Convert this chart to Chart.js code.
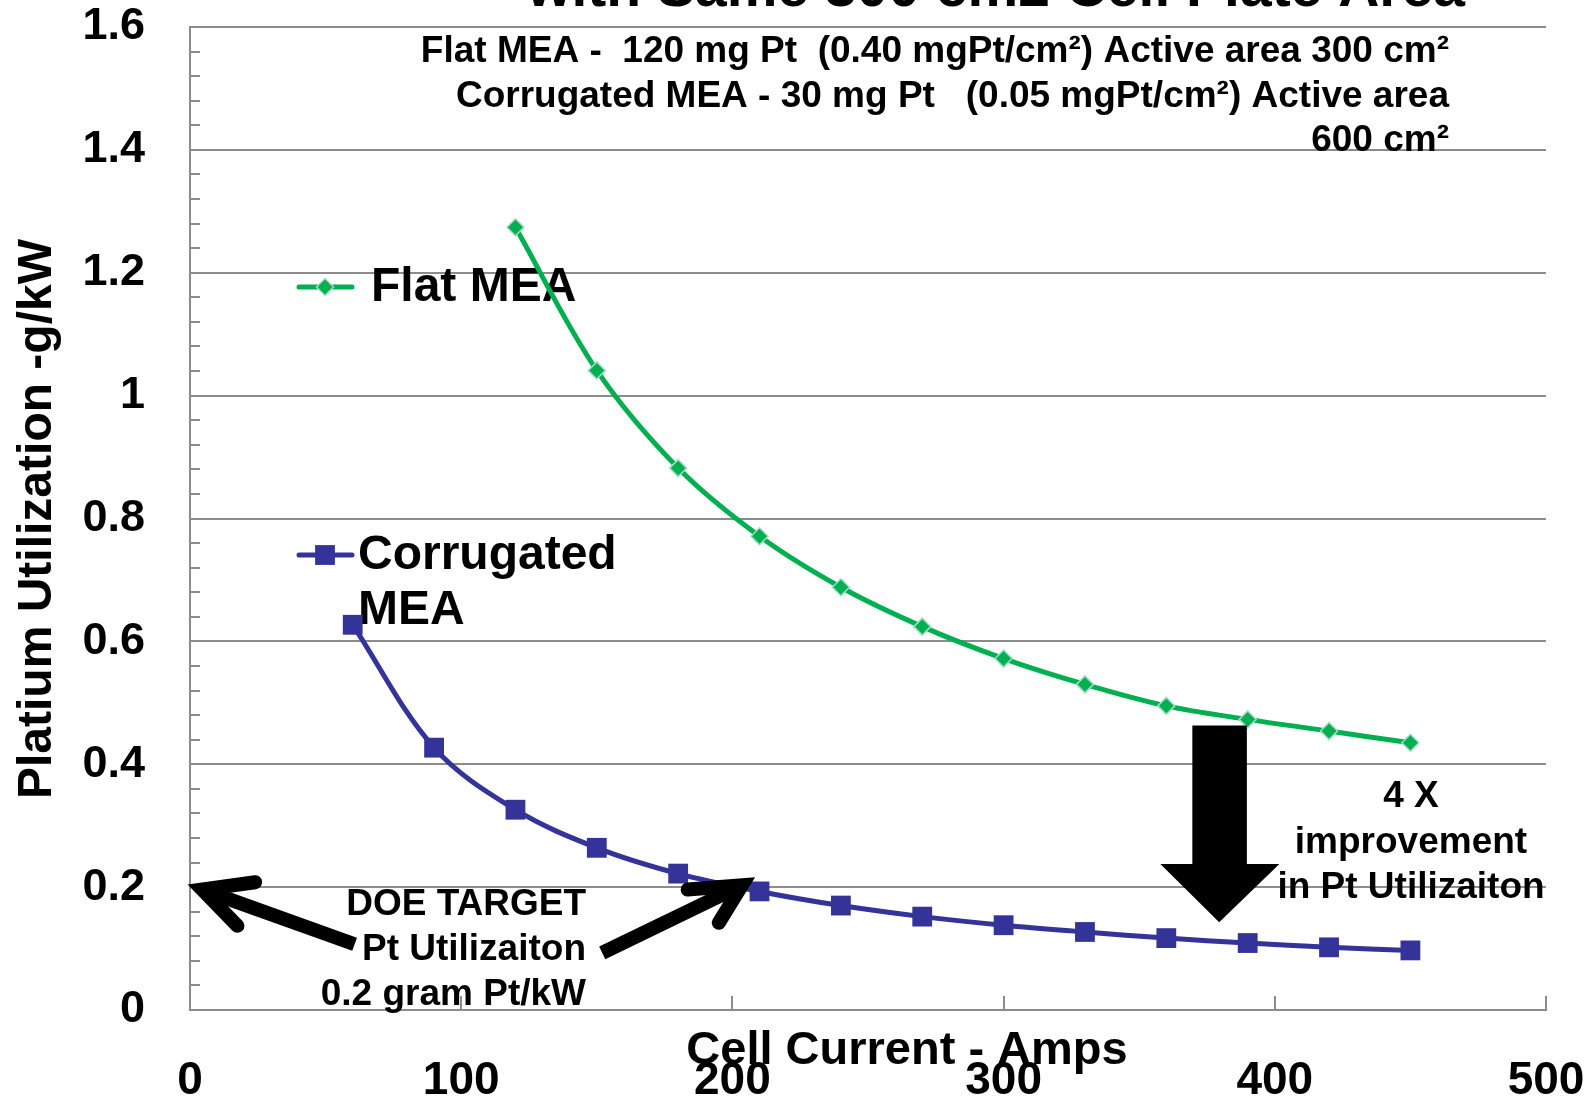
<!DOCTYPE html>
<html>
<head>
<meta charset="utf-8">
<script src="https://cdn.jsdelivr.net/npm/chart.js@4.4.1/dist/chart.umd.min.js"></script>
<style>
  html, body { margin: 0; padding: 0; background: #fff; }
  #wrap { width: 1589px; height: 1103px; }
</style>
</head>
<body>
<div id="wrap"><canvas id="chart" width="1589" height="1103"></canvas></div>
<script>
// values
const flatCurrent = [120, 150, 180, 210, 240, 270, 300, 330, 360, 390, 420, 450];
const flatUtil = [1.274, 1.041, 0.882, 0.771, 0.688, 0.624, 0.572, 0.530, 0.495, 0.473, 0.454, 0.435];
const corrCurrent = [60, 90, 120, 150, 180, 210, 240, 270, 300, 330, 360, 390, 420, 450];
const corrUtil = [0.627, 0.427, 0.326, 0.264, 0.222, 0.193, 0.170, 0.152, 0.138, 0.127, 0.117, 0.109, 0.102, 0.097];
const xTicks = [0, 100, 200, 300, 400, 500];
const yTicks = [0, 0.2, 0.4, 0.6, 0.8, 1, 1.2, 1.4, 1.6];
const yMinorStep = 0.04;

const FONT = "'Liberation Sans', Arial, Helvetica, sans-serif";
const GRID = '#8c8c8c';
const GREEN = '#00B050';
const BLUE = '#333399';

function toPoints(xs, ys) {
    return xs.map((x, i) => ({ x: x, y: ys[i] }));
}

function text(ctx, s, x, y, size, align) {
    ctx.font = 'bold ' + size + 'px ' + FONT;
    ctx.textAlign = align || 'left';
    ctx.textBaseline = 'middle';
    ctx.fillText(s, x, y);
}

// open arrow: shaft from tail to tip, two barbs meeting at the tip
function openArrow(ctx, tail, tip, b1, b2) {
    ctx.lineWidth = 14;
    ctx.lineCap = 'butt';
    ctx.beginPath();
    ctx.moveTo(tail.x, tail.y);
    ctx.lineTo(tip.x, tip.y);
    ctx.stroke();
    ctx.lineCap = 'round';
    ctx.lineJoin = 'miter';
    ctx.beginPath();
    ctx.moveTo(b1.x, b1.y);
    ctx.lineTo(tip.x, tip.y);
    ctx.lineTo(b2.x, b2.y);
    ctx.stroke();
}

// annotation anchors, in axis units
const leftArrow = { tail: [60.7, 0.107], tip: [4.5, 0.196], b1: [24, 0.208], b2: [17.5, 0.137] };
const rightArrow = { tail: [152, 0.093], tip: [203.5, 0.203], b1: [183.5, 0.196], b2: [195, 0.142] };
const downArrow = { x0: 369.6, x1: 389.7, yTop: 0.463, yNeck: 0.2375, hx0: 357.8, hx1: 401.7, tipX: 379.5, tipY: 0.143 };

const decorations = {
    id: 'decorations',
    beforeDatasetsDraw(chart) {
        const ctx = chart.ctx;
        const xs = chart.scales.x, ys = chart.scales.y;
        const area = chart.chartArea;
        ctx.save();
        // inner minor ticks on the value axis
        ctx.strokeStyle = GRID;
        ctx.lineWidth = 2;
        for (let i = 0; i * yMinorStep <= 1.6001; i++) {
            const py = Math.round(ys.getPixelForValue(i * yMinorStep));
            ctx.beginPath();
            ctx.moveTo(area.left, py);
            ctx.lineTo(area.left + 10, py);
            ctx.stroke();
        }
        // inner major ticks on the current axis
        xTicks.forEach(v => {
            const px = Math.round(xs.getPixelForValue(v));
            ctx.beginPath();
            ctx.moveTo(px, area.bottom);
            ctx.lineTo(px, area.bottom - 14);
            ctx.stroke();
        });

        // legend inside plot
        ctx.fillStyle = '#000';
        text(ctx, 'Flat MEA', 371, 288, 48);
        text(ctx, 'Corrugated', 358, 556, 48);
        text(ctx, 'MEA', 358, 611, 48);
        ctx.lineCap = 'round';
        ctx.lineWidth = 5;
        ctx.strokeStyle = GREEN;
        ctx.beginPath(); ctx.moveTo(299, 287); ctx.lineTo(352, 287); ctx.stroke();
        ctx.fillStyle = GREEN; ctx.strokeStyle = '#9fdcc8'; ctx.lineWidth = 1.5;
        Chart.helpers.drawPoint(ctx, { pointStyle: 'rectRot', radius: 8.5, rotation: 0, borderWidth: 1.5 }, 325, 287);
        ctx.lineWidth = 5;
        ctx.strokeStyle = BLUE;
        ctx.beginPath(); ctx.moveTo(299, 555); ctx.lineTo(352, 555); ctx.stroke();
        ctx.fillStyle = BLUE;
        Chart.helpers.drawPoint(ctx, { pointStyle: 'rect', radius: 14, rotation: 0, borderWidth: 0 }, 325, 555);
        ctx.restore();
    },
    afterDraw(chart) {
        const ctx = chart.ctx;
        const xs = chart.scales.x, ys = chart.scales.y;
        const P = (a) => ({ x: xs.getPixelForValue(a[0]), y: ys.getPixelForValue(a[1]) });
        ctx.save();
        ctx.fillStyle = '#000';
        ctx.strokeStyle = '#000';

        // chart title, cut off by the top edge
        ctx.font = 'bold 57px ' + FONT;
        ctx.textAlign = 'center';
        ctx.textBaseline = 'alphabetic';
        ctx.fillText('with Same 300 cm2 Cell Plate Area', 996, 6);

        // axis titles
        ctx.font = 'bold 47px ' + FONT;
        ctx.fillText('Cell Current - Amps', 907, 1064);
        ctx.save();
        ctx.translate(51, 519);
        ctx.rotate(-Math.PI / 2);
        ctx.font = 'bold 48px ' + FONT;
        ctx.fillText('Platium Utilization -g/kW', 0, 0);
        ctx.restore();

        // loading notes
        text(ctx, 'Flat MEA -  120 mg Pt  (0.40 mgPt/cm²) Active area 300 cm²', 1449, 52, 37, 'right');
        text(ctx, 'Corrugated MEA - 30 mg Pt   (0.05 mgPt/cm²) Active area', 1449, 97, 37, 'right');
        text(ctx, '600 cm²', 1449, 141, 37, 'right');

        // DOE target note and arrows
        text(ctx, 'DOE TARGET', 586, 905, 37, 'right');
        text(ctx, 'Pt Utilizaiton', 586, 950, 37, 'right');
        text(ctx, '0.2 gram Pt/kW', 586, 995, 37, 'right');
        openArrow(ctx, P(leftArrow.tail), P(leftArrow.tip), P(leftArrow.b1), P(leftArrow.b2));
        openArrow(ctx, P(rightArrow.tail), P(rightArrow.tip), P(rightArrow.b1), P(rightArrow.b2));

        // improvement block arrow
        const d = downArrow;
        ctx.beginPath();
        ctx.moveTo(xs.getPixelForValue(d.x0), ys.getPixelForValue(d.yTop));
        ctx.lineTo(xs.getPixelForValue(d.x1), ys.getPixelForValue(d.yTop));
        ctx.lineTo(xs.getPixelForValue(d.x1), ys.getPixelForValue(d.yNeck));
        ctx.lineTo(xs.getPixelForValue(d.hx1), ys.getPixelForValue(d.yNeck));
        ctx.lineTo(xs.getPixelForValue(d.tipX), ys.getPixelForValue(d.tipY));
        ctx.lineTo(xs.getPixelForValue(d.hx0), ys.getPixelForValue(d.yNeck));
        ctx.lineTo(xs.getPixelForValue(d.x0), ys.getPixelForValue(d.yNeck));
        ctx.closePath();
        ctx.fill();

        text(ctx, '4 X', 1411, 797, 37, 'center');
        text(ctx, 'improvement', 1411, 843, 37, 'center');
        text(ctx, 'in Pt Utilizaiton', 1411, 888, 37, 'center');
        ctx.restore();
    }
};

const ctx = document.getElementById('chart').getContext('2d');
new Chart(ctx, {
    type: 'line',
    data: {
        datasets: [{
            label: 'Flat MEA',
            data: toPoints(flatCurrent, flatUtil),
            borderColor: GREEN,
            borderWidth: 5,
            tension: 0.35,
            pointStyle: 'rectRot',
            pointRadius: 8.5,
            pointBackgroundColor: GREEN,
            pointBorderColor: '#9fdcc8',
            pointBorderWidth: 1.5,
            clip: false
        }, {
            label: 'Corrugated MEA',
            data: toPoints(corrCurrent, corrUtil),
            borderColor: BLUE,
            borderWidth: 5,
            tension: 0.35,
            pointStyle: 'rect',
            pointRadius: 14,
            pointBackgroundColor: BLUE,
            pointBorderWidth: 0,
            clip: false
        }]
    },
    options: {
        responsive: false,
        devicePixelRatio: 1,
        animation: false,
        layout: { padding: { top: 27, right: 43, left: 0, bottom: 0 } },
        plugins: {
            legend: { display: false },
            tooltip: { enabled: false }
        },
        scales: {
            x: {
                type: 'linear',
                min: 0,
                max: 500,
                afterFit: (scale) => { scale.height = 93; },
                afterBuildTicks: (scale) => { scale.ticks = xTicks.map(v => ({ value: v })); },
                ticks: {
                    color: '#000',
                    padding: 0,
                    maxRotation: 0,
                    font: { family: FONT, size: 46, weight: 'bold' }
                },
                // tick marks are invisible; their length only pushes the labels down
                grid: { display: true, drawOnChartArea: false, drawTicks: true, tickLength: 44, tickColor: 'rgba(0,0,0,0)' },
                border: { display: true, color: GRID, width: 2 }
            },
            y: {
                min: 0,
                max: 1.6,
                afterFit: (scale) => { scale.width = 190; },
                afterBuildTicks: (scale) => { scale.ticks = yTicks.map(v => ({ value: v })); },
                ticks: {
                    color: '#000',
                    padding: 0,
                    callback: (v) => String(+v.toFixed(1)),
                    font: { family: FONT, size: 45, weight: 'bold' }
                },
                grid: { color: GRID, lineWidth: 2, drawTicks: true, tickLength: 45, tickColor: 'rgba(0,0,0,0)' },
                border: { display: true, color: GRID, width: 2 }
            }
        }
    },
    plugins: [decorations]
});
</script>
</body>
</html>
